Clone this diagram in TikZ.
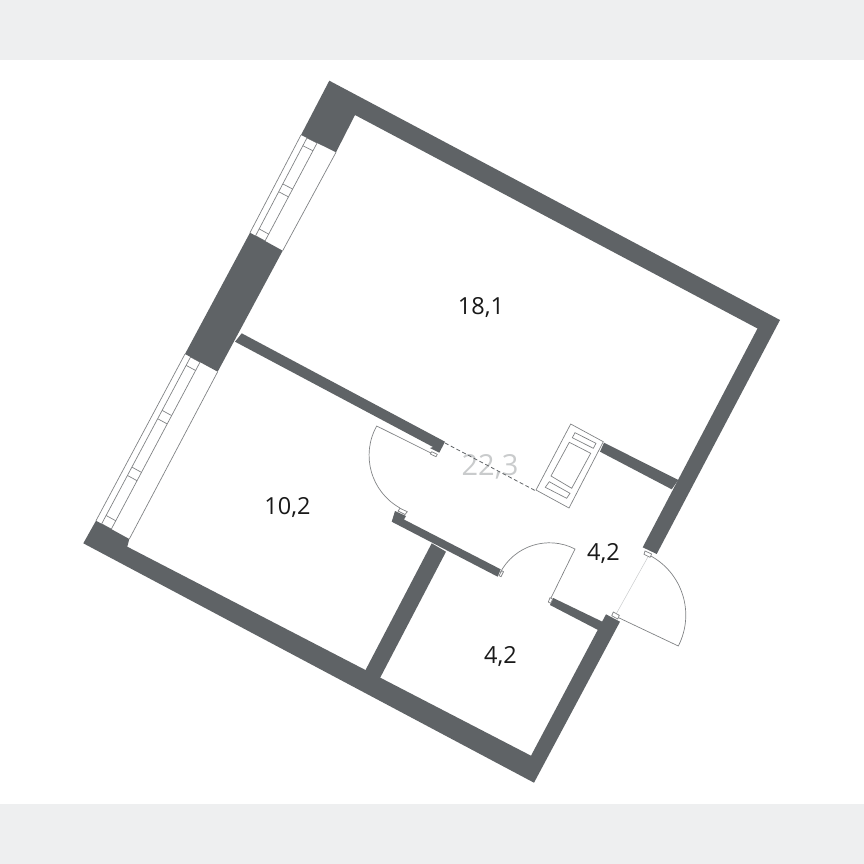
\documentclass[tikz,border=0pt]{standalone}
\usepackage{fontspec}
\setmainfont{Open Sans}
\usetikzlibrary{calc}
\definecolor{wallgray}{HTML}{5F6366}
\definecolor{bandgray}{HTML}{EEEFF0}
\definecolor{linegray}{HTML}{808284}
\definecolor{areagray}{HTML}{C9CBCC}
\tikzset{
   wall/.style={fill=wallgray},
   thin line/.style={draw=linegray, line width=0.7pt},
   area/.style={font=\fontsize{23.5}{24}\selectfont, text=black!90, inner sep=0pt},
}
% window between the corners a b (top) and c d (bottom), #5 = list of rungs
\newcommand{\windowpane}[5]{
   \draw[thin line] (#1) -- (#3) (#2) -- (#4);
   \draw[thin line] ($(#1)!0.17!(#2)$) -- ($(#3)!0.17!(#4)$)
      ($(#1)!0.46!(#2)$) -- ($(#3)!0.46!(#4)$);
   \foreach \r/\s in {#5} {
      \draw[thin line]
         ($($(#1)!0.17!(#2)$)!\r!($(#3)!0.17!(#4)$)$) -- ($($(#1)!0.46!(#2)$)!\r!($(#3)!0.46!(#4)$)$)
         ($($(#1)!0.17!(#2)$)!\s!($(#3)!0.17!(#4)$)$) -- ($($(#1)!0.46!(#2)$)!\s!($(#3)!0.46!(#4)$)$);
   }
}
\begin{document}
\begin{tikzpicture}[x=1pt, y=-1pt]
   \useasboundingbox (0,0) rectangle (864,864);
   \fill[bandgray] (0,0) rectangle (864,60);
   \fill[bandgray] (0,804) rectangle (864,864);

   % windows
   \coordinate (w1a) at (301,135);
   \coordinate (w1b) at (336,152.3);
   \coordinate (w1c) at (250,232.7);
   \coordinate (w1d) at (282.7,250.7);
   \coordinate (w2a) at (185,354);
   \coordinate (w2b) at (217.7,371.7);
   \coordinate (w2c) at (96,520.7);
   \coordinate (w2d) at (129.3,539);
   \windowpane{w1a}{w1b}{w1c}{w1d}{0.08/0, 0.47/0.55, 0.93/1}
   \windowpane{w2a}{w2b}{w2c}{w2d}{0.05/0, 0.32/0.37, 0.66/0.71, 0.95/1}

   % walls
   \fill[wall] (329.3,80.7) -- (780,320) -- (656.7,554) -- (642.7,547.3)
      -- (757.5,328.5) -- (355,115) -- (336,152.3) -- (301,135) -- cycle;
   \fill[wall] (250,232.7) -- (282.7,250.7) -- (217.7,371.7) -- (185,354) -- cycle;
   \fill[wall] (241.7,333.3) -- (445,441.7) -- (439.3,452.7) -- (430,448)
      -- (433,447) -- (235,341.7) -- cycle;
   \fill[wall] (96,520.7) -- (129.3,539) -- (127.3,546.7) -- (531,755.7)
      -- (606,614.3) -- (620,621.7) -- (534,782.7) -- (83.3,543.3) -- cycle;
   \fill[wall] (604,442.7) -- (678.3,480) -- (671.7,489.3) -- (600,451.7) -- cycle;
   \fill[wall] (553.3,598) -- (603,622) -- (600,631) -- (550,605) -- cycle;
   \fill[wall] (395,511) -- (406,516) -- (404,519.5) -- (500.7,569.3)
      -- (497.7,576.7) -- (391.7,521.7) -- cycle;
   \fill[wall] (431.7,543.3) -- (446,551.7) -- (380.7,676.7) -- (375,688)
      -- (360,680) -- (365,671) -- cycle;

   % doors
   \coordinate (d1hinge) at (435,455);
   \coordinate (d1leaf) at (376.7,426);
   \coordinate (d1end) at (400,508);
   \draw[thin line] (d1hinge) -- (d1leaf) to[bend right=45] (d1end);
   \coordinate (d2hinge) at (550,600);
   \coordinate (d2leaf) at (575,549);
   \coordinate (d2end) at (500,573);
   \draw[thin line] (d2hinge) -- (d2leaf) to[bend right=45] (d2end);
   \coordinate (d3hinge) at (615,616);
   \coordinate (d3leaf) at (678.3,646);
   \coordinate (d3end) at (649,555);
   \draw[thin line] (d3hinge) -- (d3leaf) to[bend right=45] (d3end);
   \draw[areagray, line width=0.5pt] (d3hinge) -- (d3end);
   % jambs
   \foreach \jamb in {
      {(431.7,451.7) -- (437.3,454.3) -- (436,456.7) -- (430.3,454)},
      {(400,508.3) -- (407.3,511.7) -- (405,514.5) -- (398,511)},
      {(499,575.7) -- (501.7,570.7) -- (503.5,571.7) -- (501,576.7)},
      {(550,597.7) -- (552.7,599) -- (550.7,603.3) -- (548.3,602)},
      {(645,551) -- (651.7,554) -- (650,557.3) -- (644,554.3)},
      {(613.3,612) -- (619.3,615.3) -- (617.7,619) -- (611.7,615.7)}
   } {
      \draw[thin line, fill=white] \jamb -- cycle;
   }

   % sink unit
   \draw[thin line] (570.7,424) -- (603.3,441.7) -- (569,508) -- (536,490) -- cycle;
   \draw[thin line] (569.3,442.3) -- (590.7,453.3) -- (571.7,488.3) -- (551,476) -- cycle;
   \draw[thin line] (575,432.7) -- (596,443.3) -- (593.3,448.3) -- (572.3,437.7) -- cycle;
   \draw[thin line] (549.3,481.7) -- (570,493.3) -- (566.7,498.3) -- (545.3,487.3) -- cycle;

   % areas
   \node[area] (room) at (481,308) {18,1};
   \node[area] (bedroom) at (287.5,507) {10,2};
   \node[area, text=areagray, font=\fontsize{29}{30}\selectfont] (kitchen) at (490,467) {22,3};
   \node[area] (hall) at (603.5,553) {4,2};
   \node[area] (bath) at (500.5,656) {4,2};

   % dashed border of the kitchen
   \coordinate (dashA) at (445,443);
   \coordinate (dashB) at (536,491);
   \draw[wallgray, line width=0.8pt, dash pattern=on 4pt off 2.5pt] (dashA) -- (dashB);
\end{tikzpicture}
\end{document}
